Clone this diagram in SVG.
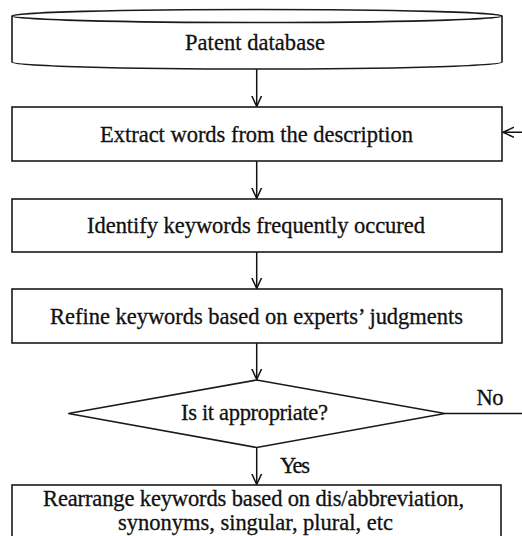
<svg xmlns="http://www.w3.org/2000/svg" width="522" height="536" viewBox="0 0 522 536">
<style>
.shape{fill:#fff;stroke:#1a1a1a;stroke-width:1.6}
.lbl{font-family:"Liberation Serif","Times New Roman",serif;font-size:22.5px;fill:#111;stroke:#111;stroke-width:0.3;text-anchor:middle}
.edge{fill:none;stroke:#111;stroke-width:1.5}
</style>
<defs>
<marker id="arr" markerUnits="userSpaceOnUse" markerWidth="14" markerHeight="14" refX="11" refY="6" orient="auto">
<path d="M0,1 L11,6 L0,11" fill="none" stroke="#111" stroke-width="1.5"/>
</marker>
</defs>
<rect width="522" height="536" fill="#fff"/>
<g id="connectors">
<line class="edge" x1="256.7" y1="69" x2="256.7" y2="106.5" marker-end="url(#arr)"/>
<line class="edge" x1="256.7" y1="161" x2="256.7" y2="198.5" marker-end="url(#arr)"/>
<line class="edge" x1="256.7" y1="252" x2="256.7" y2="288.5" marker-end="url(#arr)"/>
<line class="edge" x1="256.7" y1="343" x2="256.7" y2="379.5" marker-end="url(#arr)"/>
<line class="edge" x1="256.7" y1="447.5" x2="256.7" y2="484.5" marker-end="url(#arr)"/>
<path class="edge" d="M445,413.5 H528 V132.3 H503" marker-end="url(#arr)"/>
<text class="lbl" x="490" y="405" font-size="21" textLength="27">No</text>
<text class="lbl" x="295" y="473" font-size="21" textLength="30">Yes</text>
</g>
<g id="db">
<path class="shape" d="M12,16 V62 A245,7 0 0 0 502,62 V16"/>
<ellipse class="shape" cx="257" cy="16" rx="245" ry="6.5"/>
<text class="lbl" x="255" y="50" textLength="140">Patent database</text>
</g>
<g id="extract">
<rect class="shape" x="12" y="107" width="490" height="54"/>
<text class="lbl" x="256.5" y="142" textLength="313">Extract words from the description</text>
</g>
<g id="identify">
<rect class="shape" x="12" y="199" width="490" height="53"/>
<text class="lbl" x="256" y="233" textLength="338">Identify keywords frequently occured</text>
</g>
<g id="refine">
<rect class="shape" x="12" y="289" width="490" height="54"/>
<text class="lbl" x="256.5" y="323.5" textLength="413">Refine keywords based on experts’ judgments</text>
</g>
<g id="decision">
<polygon class="shape" points="256.7,380 445,413.5 256.7,447.5 68.3,413.5"/>
<text class="lbl" x="254.5" y="420" textLength="147">Is it appropriate?</text>
</g>
<g id="rearrange">
<rect class="shape" x="12" y="485" width="489" height="60"/>
<text class="lbl" x="253.5" y="505.5" textLength="421">Rearrange keywords based on dis/abbreviation,</text>
<text class="lbl" x="255.5" y="530" textLength="275">synonyms, singular, plural, etc</text>
</g>
</svg>
